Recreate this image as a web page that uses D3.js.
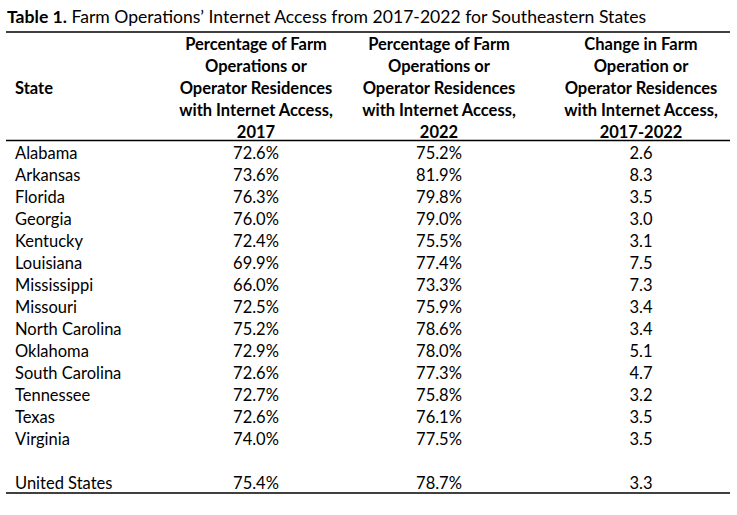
<!DOCTYPE html>
<html>
<head>
<meta charset="utf-8">
<script src="https://cdn.jsdelivr.net/npm/d3@7"></script>
<style>
  body { margin: 0; background: #fff; }
  svg text { font-family: Lato, "Open Sans", sans-serif; fill: #000; }
</style>
</head>
<body>
<svg id="tbl"></svg>
<script>
// Table values
var states = ["Alabama", "Arkansas", "Florida", "Georgia", "Kentucky", "Louisiana",
    "Mississippi", "Missouri", "North Carolina", "Oklahoma", "South Carolina",
    "Tennessee", "Texas", "Virginia"];
var pct2017 = [72.6, 73.6, 76.3, 76.0, 72.4, 69.9, 66.0, 72.5, 75.2, 72.9, 72.6, 72.7, 72.6, 74.0];
var pct2022 = [75.2, 81.9, 79.8, 79.0, 75.5, 77.4, 73.3, 75.9, 78.6, 78.0, 77.3, 75.8, 76.1, 77.5];
var change = [2.6, 8.3, 3.5, 3.0, 3.1, 7.5, 7.3, 3.4, 3.4, 5.1, 4.7, 3.2, 3.5, 3.5];
var usRow = ["United States", 75.4, 78.7, 3.3];

var headers = [
    ["State"],
    ["Percentage of Farm", "Operations or", "Operator Residences", "with Internet Access,", "2017"],
    ["Percentage of Farm", "Operations or", "Operator Residences", "with Internet Access,", "2022"],
    ["Change in Farm", "Operation or", "Operator Residences", "with Internet Access,", "2017-2022"]
];

var w = 737, h = 515;
var fs = 16.5;
var fmtPct = function(v) { return d3.format(".1f")(v) + "%"; };
var fmtNum = d3.format(".1f");

var svg = d3.select("#tbl").attr("width", w).attr("height", h);

// column centres (first column is left aligned)
var x = d3.scaleOrdinal().domain([0, 1, 2, 3]).range([15, 256, 439, 641]);
// row centres, by row index (blank row at 14, US at 15)
var y = d3.scaleLinear().domain([0, 1]).range([153, 175]);
// header line centres
var hy = d3.scaleLinear().domain([0, 1]).range([43.5, 65.5]);

// title
var title = svg.append("text")
    .attr("x", 7)
    .attr("y", 16)
    .attr("dominant-baseline", "central")
    .style("font-size", "17.6px");
title.append("tspan").style("font-weight", "bold").text("Table 1.");
title.append("tspan").text(" Farm Operations\u2019 Internet Access from 2017-2022 for Southeastern States");

// rules
var rules = [32, 140.5, 493];
svg.selectAll(".rule")
    .data(rules)
    .enter()
    .append("line")
    .attr("class", "rule")
    .attr("x1", 6)
    .attr("x2", 730)
    .attr("y1", function(d) { return d; })
    .attr("y2", function(d) { return d; })
    .style("stroke", "#000")
    .style("stroke-width", 1.5);

// header
headers.forEach(function(lines, c) {
    var off = c === 0 ? 2 : 0;
    svg.selectAll(".h" + c)
        .data(lines)
        .enter()
        .append("text")
        .attr("class", "h" + c)
        .attr("x", x(c))
        .attr("y", function(d, i) { return hy(i + off); })
        .attr("text-anchor", c === 0 ? "start" : "middle")
        .attr("dominant-baseline", "central")
        .style("font-weight", "bold")
        .style("font-size", fs + "px")
        .text(function(d) { return d; });
});

// body rows
var rows = states.map(function(s, i) {
    return { i: i, cells: [s, fmtPct(pct2017[i]), fmtPct(pct2022[i]), fmtNum(change[i])] };
});
rows.push({ i: 15, cells: [usRow[0], fmtPct(usRow[1]), fmtPct(usRow[2]), fmtNum(usRow[3])] });

var row = svg.selectAll(".row")
    .data(rows)
    .enter()
    .append("g")
    .attr("class", "row")
    .attr("transform", function(d) { return "translate(0," + y(d.i) + ")"; });

row.selectAll("text")
    .data(function(d) { return d.cells; })
    .enter()
    .append("text")
    .attr("x", function(d, c) { return x(c); })
    .attr("y", 0)
    .attr("text-anchor", function(d, c) { return c === 0 ? "start" : "middle"; })
    .attr("dominant-baseline", "central")
    .style("font-size", fs + "px")
    .text(function(d) { return d; });
</script>
</body>
</html>
